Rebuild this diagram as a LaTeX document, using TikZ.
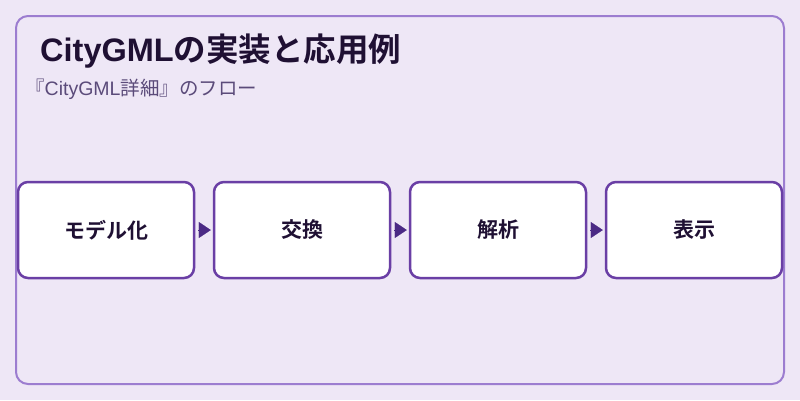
\documentclass[tikz,border=0pt]{standalone}
\usepackage{fontspec}
\setmainfont{Liberation Sans}
\newfontfamily\jp[BoldFont={Noto Sans CJK JP Bold}]{Noto Sans CJK JP}
\usetikzlibrary{arrows.meta}
\definecolor{bgc}{HTML}{EEE7F6}
\definecolor{framec}{HTML}{9C7DD0}
\definecolor{boxc}{HTML}{6A3FA5}
\definecolor{arrc}{HTML}{4B2A85}
\definecolor{titlec}{HTML}{1F1033}
\definecolor{subc}{HTML}{5B4B7A}
\tikzset{
  stepbox/.style={draw=boxc, line width=2.5pt, fill=white, rounded corners=10pt,
    minimum width=176pt, minimum height=96pt, inner sep=0pt,
    font=\fontsize{21pt}{24pt}\selectfont\bfseries\jp, text=titlec},
  flowarrow/.style={draw=arrc, fill=arrc, line width=0.1pt,
    -{Triangle[length=12pt,width=16pt]}, shorten <=3pt, shorten >=2pt}
}
\begin{document}
\begin{tikzpicture}[x=1pt,y=-1pt]
  \useasboundingbox (0,0) rectangle (800,400);
  \fill[bgc] (0,0) rectangle (800,400);
  \draw[framec, line width=2pt, rounded corners=12pt] (16,16) rectangle (784,384);
  \node[anchor=base west, inner sep=0pt, text=titlec,
        font=\fontsize{32.5pt}{38pt}\selectfont\bfseries] (title) at (40,61) {CityGML{\jp の実装と応用例}};
  \node[anchor=base west, inner sep=0pt, text=subc,
        font=\fontsize{19.5pt}{22pt}\selectfont] (sub) at (25,95) {{\jp『}CityGML{\jp 詳細』のフロー}};
  \node[stepbox] (s1) at (106,230) {モデル化};
  \node[stepbox] (s2) at (302,230) {交換};
  \node[stepbox] (s3) at (498,230) {解析};
  \node[stepbox] (s4) at (694,230) {表示};
  \draw[flowarrow] (s1.east) -- (s2.west);
  \draw[flowarrow] (s2.east) -- (s3.west);
  \draw[flowarrow] (s3.east) -- (s4.west);
\end{tikzpicture}
\end{document}
